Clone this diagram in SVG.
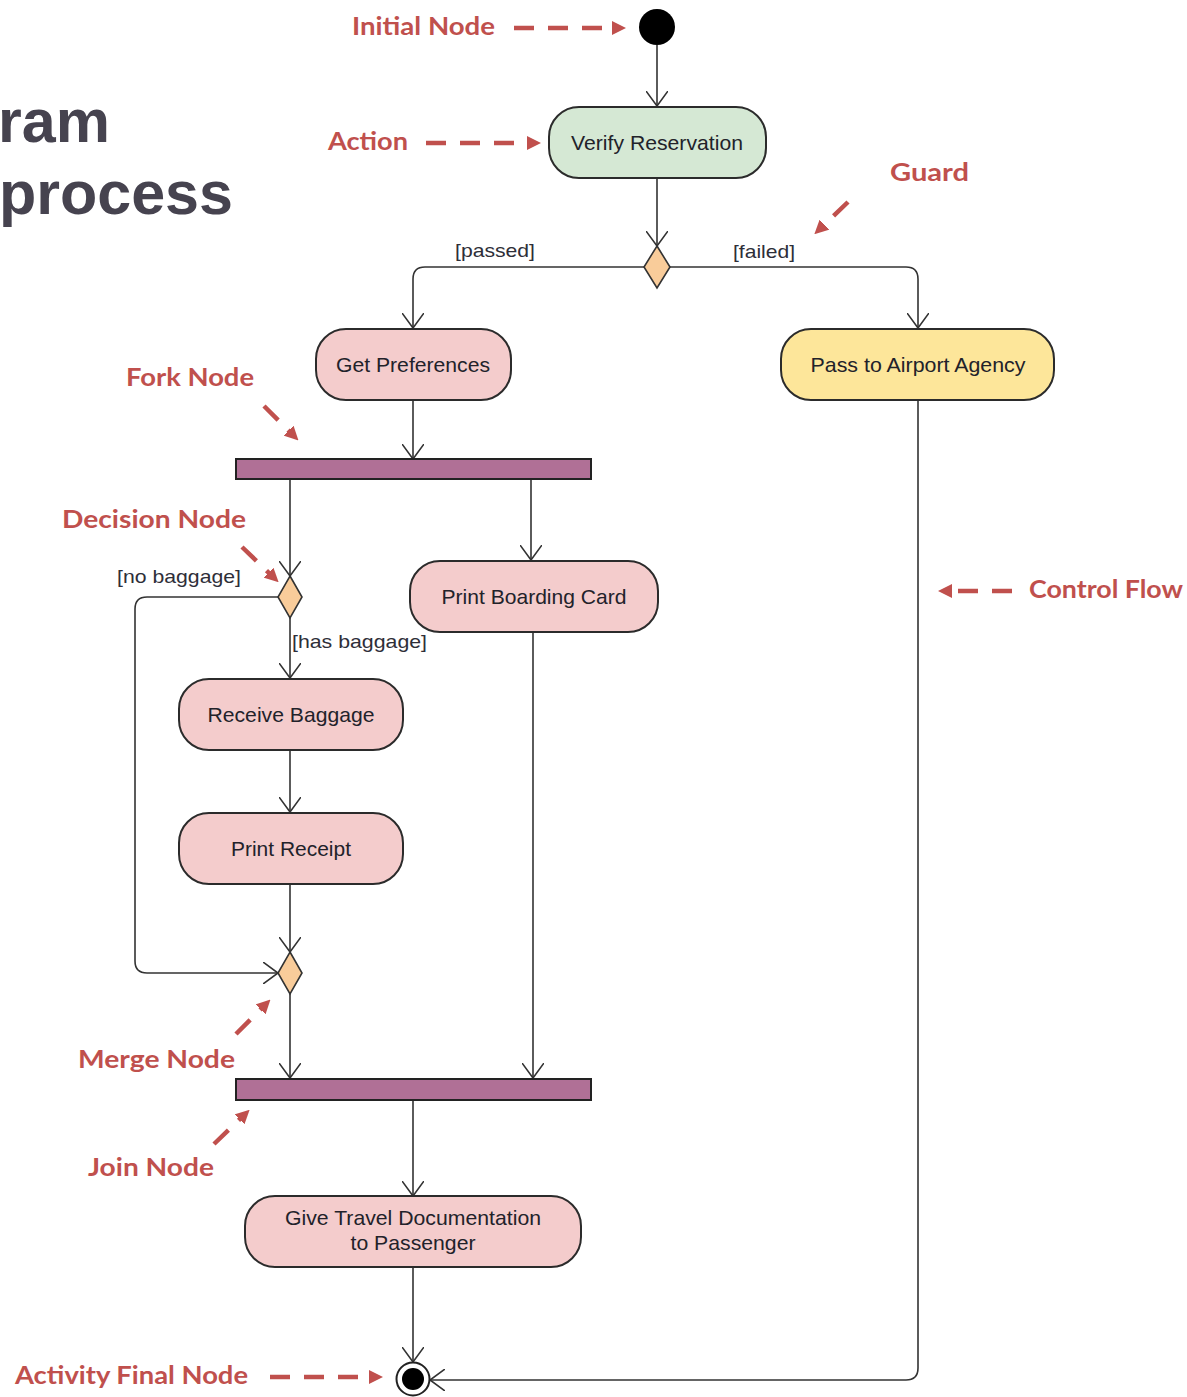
<svg xmlns="http://www.w3.org/2000/svg" width="1187" height="1397" viewBox="0 0 1187 1397">
  <style>
    .action { stroke: #2b2b2b; stroke-width: 2; }
    .label { font-family: "Liberation Sans", Arial, sans-serif; font-size: 21px; fill: #22222a; text-anchor: middle; }
    .guard { font-family: "Liberation Sans", Arial, sans-serif; font-size: 19px; fill: #2e2e38; }
    .flow { fill: none; stroke: #333; stroke-width: 1.6; }
    .bar { fill: #b07096; stroke: #222; stroke-width: 2; }
    .diamond { fill: #f9cc9a; stroke: #333; stroke-width: 1.6; }
    .note { font-family: Lato, "Noto Sans", sans-serif; font-weight: bold; font-size: 24px; fill: #c0504d; }
    .pointer { fill: none; stroke: #c0504d; stroke-width: 4.5; stroke-dasharray: 20 14; }
    .title { font-family: "Liberation Sans", Arial, sans-serif; font-weight: bold; font-size: 61px; fill: #46434f; }
  </style>
  <defs>
    <!-- open V arrowhead for control flows -->
    <marker id="open" viewBox="0 0 15 22" markerWidth="15" markerHeight="22" refX="15" refY="11" orient="auto" markerUnits="userSpaceOnUse">
      <path d="M0,0 L15,11 L0,22" fill="none" stroke="#333" stroke-width="1.6"/>
    </marker>
    <!-- solid head for the red callout pointers -->
    <marker id="tri" viewBox="0 0 14 14" markerWidth="14" markerHeight="14" refX="2" refY="7" orient="auto" markerUnits="userSpaceOnUse">
      <path d="M0,0 L14,7 L0,14 Z" fill="#c0504d"/>
    </marker>
  </defs>

  <rect width="1187" height="1397" fill="#ffffff"/>

  <!-- heading fragment -->
  <text class="title" x="-2" y="142">ram</text>
  <text class="title" x="-1" y="214">process</text>

  <!-- control flows -->
  <g id="connectors">
    <path class="flow" d="M657,45 V106" marker-end="url(#open)"/>
    <path class="flow" d="M657,178 V246" marker-end="url(#open)"/>
    <path class="flow" d="M644,267 H425 Q413,267 413,279 V328" marker-end="url(#open)"/>
    <path class="flow" d="M670,267 H906 Q918,267 918,279 V328" marker-end="url(#open)"/>
    <path class="flow" d="M413,400 V459" marker-end="url(#open)"/>
    <path class="flow" d="M290,480 V576" marker-end="url(#open)"/>
    <path class="flow" d="M531,480 V560" marker-end="url(#open)"/>
    <path class="flow" d="M278,597 H147 Q135,597 135,609 V961 Q135,973 147,973 H278" marker-end="url(#open)"/>
    <path class="flow" d="M290,618 V678" marker-end="url(#open)"/>
    <path class="flow" d="M290,750 V812" marker-end="url(#open)"/>
    <path class="flow" d="M290,884 V952" marker-end="url(#open)"/>
    <path class="flow" d="M290,994 V1078" marker-end="url(#open)"/>
    <path class="flow" d="M533,632 V1078" marker-end="url(#open)"/>
    <path class="flow" d="M413,1101 V1196" marker-end="url(#open)"/>
    <path class="flow" d="M413,1267 V1362" marker-end="url(#open)"/>
    <path class="flow" d="M918,400 V1368 Q918,1380 906,1380 H430" marker-end="url(#open)"/>
  </g>

  <!-- guards -->
  <text class="guard" x="455" y="257" textLength="80" lengthAdjust="spacingAndGlyphs">[passed]</text>
  <text class="guard" x="733" y="258" textLength="62" lengthAdjust="spacingAndGlyphs">[failed]</text>
  <text class="guard" x="117" y="583" textLength="124" lengthAdjust="spacingAndGlyphs">[no baggage]</text>
  <text class="guard" x="292" y="648" textLength="135" lengthAdjust="spacingAndGlyphs">[has baggage]</text>

  <!-- nodes -->
  <g id="initial-node">
    <circle cx="657" cy="27" r="18" fill="#000"/>
  </g>
  <g id="verify-reservation">
    <rect class="action" x="549" y="107" width="217" height="71" rx="30" fill="#d5e8d4"/>
    <text class="label" x="657" y="149.5" textLength="172" lengthAdjust="spacingAndGlyphs">Verify Reservation</text>
  </g>
  <g id="decision-guard">
    <polygon class="diamond" points="657,246 670,267 657,288 644,267"/>
  </g>
  <g id="get-preferences">
    <rect class="action" x="316" y="329" width="195" height="71" rx="30" fill="#f4cccc"/>
    <text class="label" x="413" y="371.5" textLength="154" lengthAdjust="spacingAndGlyphs">Get Preferences</text>
  </g>
  <g id="pass-to-airport-agency">
    <rect class="action" x="781" y="329" width="273" height="71" rx="30" fill="#fde69a"/>
    <text class="label" x="918" y="371.5" textLength="215" lengthAdjust="spacingAndGlyphs">Pass to Airport Agency</text>
  </g>
  <g id="fork-node">
    <rect class="bar" x="236" y="459" width="355" height="20"/>
  </g>
  <g id="decision-baggage">
    <polygon class="diamond" points="290,576 302,597 290,618 278,597"/>
  </g>
  <g id="print-boarding-card">
    <rect class="action" x="410" y="561" width="248" height="71" rx="30" fill="#f4cccc"/>
    <text class="label" x="534" y="603.5" textLength="185" lengthAdjust="spacingAndGlyphs">Print Boarding Card</text>
  </g>
  <g id="receive-baggage">
    <rect class="action" x="179" y="679" width="224" height="71" rx="30" fill="#f4cccc"/>
    <text class="label" x="291" y="721.5" textLength="167" lengthAdjust="spacingAndGlyphs">Receive Baggage</text>
  </g>
  <g id="print-receipt">
    <rect class="action" x="179" y="813" width="224" height="71" rx="30" fill="#f4cccc"/>
    <text class="label" x="291" y="855.5" textLength="120" lengthAdjust="spacingAndGlyphs">Print Receipt</text>
  </g>
  <g id="merge-node">
    <polygon class="diamond" points="290,952 302,973 290,994 278,973"/>
  </g>
  <g id="join-node">
    <rect class="bar" x="236" y="1079" width="355" height="21"/>
  </g>
  <g id="give-travel-documentation">
    <rect class="action" x="245" y="1196" width="336" height="71" rx="30" fill="#f4cccc"/>
    <text class="label" x="413" y="1225" textLength="256" lengthAdjust="spacingAndGlyphs">Give Travel Documentation</text>
    <text class="label" x="413" y="1250" textLength="125" lengthAdjust="spacingAndGlyphs">to Passenger</text>
  </g>
  <g id="activity-final-node">
    <circle cx="413" cy="1379" r="16.5" fill="#fff" stroke="#222" stroke-width="2"/>
    <circle cx="413" cy="1379" r="11" fill="#000"/>
  </g>

  <!-- callouts -->
  <g id="callouts">
    <text class="note" x="352" y="35" textLength="143" lengthAdjust="spacingAndGlyphs">Initial Node</text>
    <path class="pointer" d="M514,28 H614" marker-end="url(#tri)"/>

    <text class="note" x="328" y="150" textLength="80" lengthAdjust="spacingAndGlyphs">Action</text>
    <path class="pointer" d="M426,143 H529" marker-end="url(#tri)"/>

    <text class="note" x="890" y="181" textLength="79" lengthAdjust="spacingAndGlyphs">Guard</text>
    <path class="pointer" d="M848,202 L823,226" stroke-dasharray="18 10" marker-end="url(#tri)"/>

    <text class="note" x="126" y="386" textLength="128" lengthAdjust="spacingAndGlyphs">Fork Node</text>
    <path class="pointer" d="M264,406 L290,432" stroke-dasharray="18 10" marker-end="url(#tri)"/>

    <text class="note" x="62" y="528" textLength="184" lengthAdjust="spacingAndGlyphs">Decision Node</text>
    <path class="pointer" d="M242,547 L270,574" stroke-dasharray="18 10" marker-end="url(#tri)"/>

    <text class="note" x="1029" y="598" textLength="154" lengthAdjust="spacingAndGlyphs">Control Flow</text>
    <path class="pointer" d="M1012,591 H950" marker-end="url(#tri)"/>

    <text class="note" x="78" y="1068" textLength="157" lengthAdjust="spacingAndGlyphs">Merge Node</text>
    <path class="pointer" d="M236,1034 L262,1008" stroke-dasharray="18 10" marker-end="url(#tri)"/>

    <text class="note" x="88" y="1176" textLength="126" lengthAdjust="spacingAndGlyphs">Join Node</text>
    <path class="pointer" d="M214,1144 L241,1118" stroke-dasharray="18 10" marker-end="url(#tri)"/>

    <text class="note" x="15" y="1384" textLength="233" lengthAdjust="spacingAndGlyphs">Activity Final Node</text>
    <path class="pointer" d="M270,1377 H371" marker-end="url(#tri)"/>
  </g>
</svg>
